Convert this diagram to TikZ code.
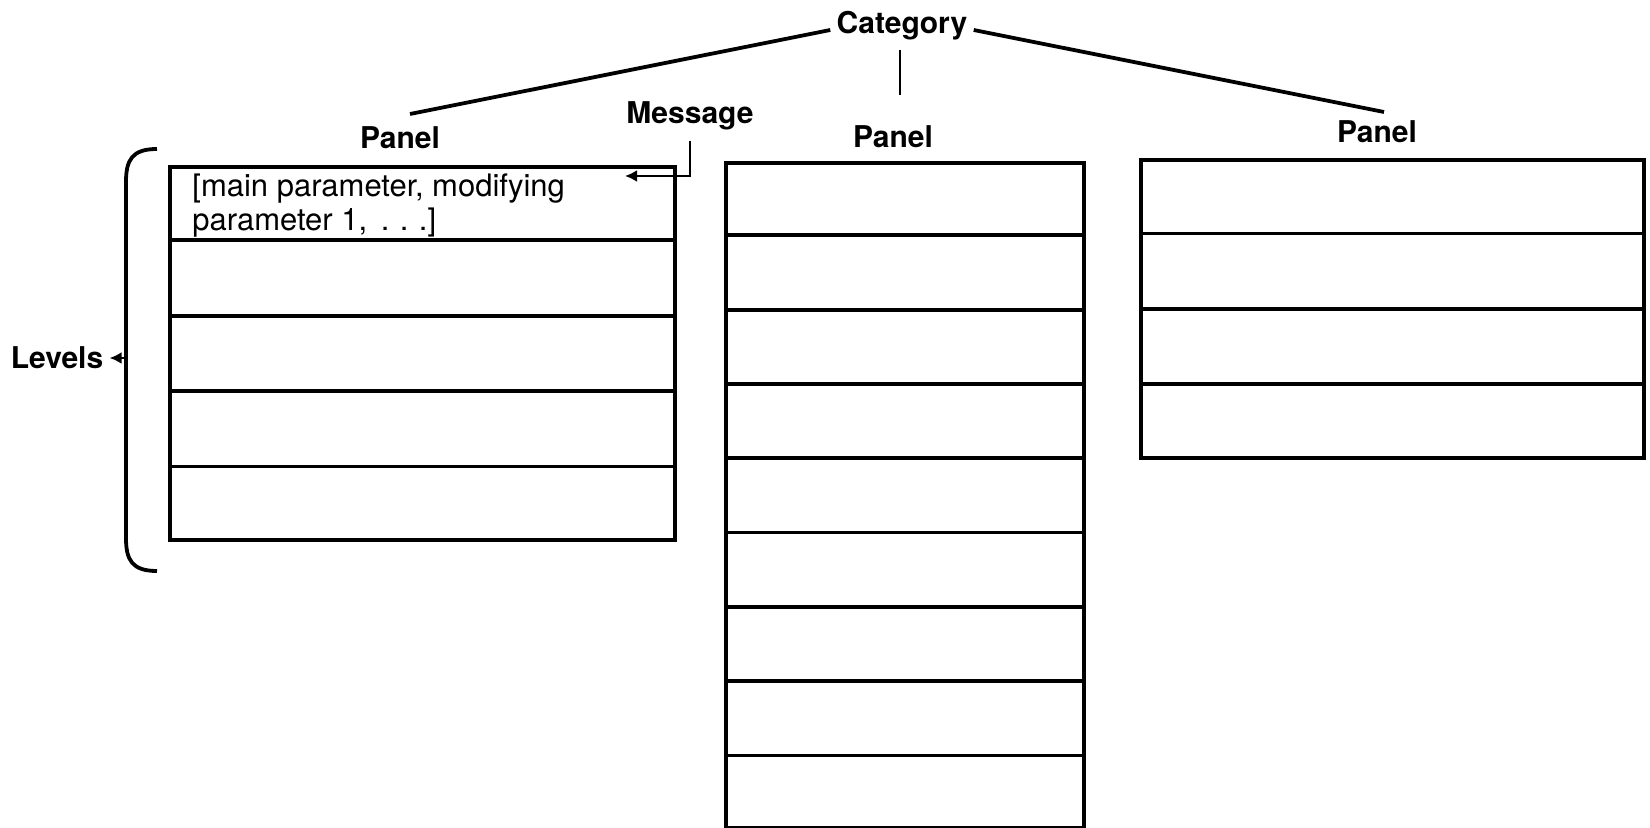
\documentclass[tikz,border=0pt]{standalone}
\usepackage{fontspec}
\setmainfont{TeX Gyre Heros}
\usetikzlibrary{arrows.meta,calc}
\begin{document}
\begin{tikzpicture}[x=0.5pt,y=-0.5pt,
  lbl/.style={font=\fontsize{15}{17}\selectfont\bfseries, inner sep=1pt},
  txt/.style={font=\fontsize{15.5}{17}\selectfont, inner sep=0pt, align=left},
  ln/.style={line width=1.9pt},
  thinln/.style={line width=1.4pt},
  panelbox/.style={draw, line width=1.9pt, rectangle, inner sep=0pt, anchor=north west},
  tip/.style={-{Latex[length=6pt,width=6pt]}}
]
\useasboundingbox (0,0) rectangle (1650,828);

% labels
\node[lbl] (cat) at (902,26) {Category};
\node[lbl] (pL) at (400,138) {Panel};
\node[lbl] (pM) at (893,137) {Panel};
\node[lbl] (pR) at (1377,132) {Panel};
\node[lbl] (msg) at (690,116) {Message};
\node[lbl] (levels) at (57,358) {Levels};

% panels
\node[panelbox, minimum width=252.5pt, minimum height=186.5pt] (boxL) at (168,165) {};
\node[panelbox, minimum width=179pt, minimum height=332.5pt] (boxM) at (724,161) {};
\node[panelbox, minimum width=251.5pt, minimum height=149pt] (boxR) at (1139,158) {};

\foreach \i in {1,...,4}
  \draw[ln] ($(boxL.north west)!\i/5!(boxL.south west)$) -- ($(boxL.north east)!\i/5!(boxL.south east)$);
\foreach \i in {1,...,8}
  \draw[ln] ($(boxM.north west)!\i/9!(boxM.south west)$) -- ($(boxM.north east)!\i/9!(boxM.south east)$);
\foreach \i in {1,...,3}
  \draw[ln] ($(boxR.north west)!\i/4!(boxR.south west)$) -- ($(boxR.north east)!\i/4!(boxR.south east)$);

\node[txt, anchor=west] (param) at (192,206) {[main parameter, modifying\\parameter 1, \,.\,\,.\,\,.]};

% category connectors
\coordinate (catL) at (410,114);
\coordinate (catR) at (1384,112);
\coordinate (catV) at (900,95);
\draw[ln] ([xshift=-2pt,yshift=-2pt]cat.west) -- (catL);
\draw[ln] ([xshift=2pt,yshift=-2pt]cat.east) -- (catR);
\draw[thinln] (900,50) -- (catV);

% message connector
\coordinate (msgTip) at (625,176);
\draw[thinln, tip] ([yshift=-4pt]msg.south) |- (msgTip);

% levels brace
\coordinate (braceMid) at (126,358);
\draw[ln] (157,149) .. controls (132,149) and (126,160) .. (126,182) -- (126,538) .. controls (126,560) and (132,571) .. (157,571);
\draw[thinln, tip] (braceMid) -- ([xshift=2pt]levels.east);
\end{tikzpicture}
\end{document}
